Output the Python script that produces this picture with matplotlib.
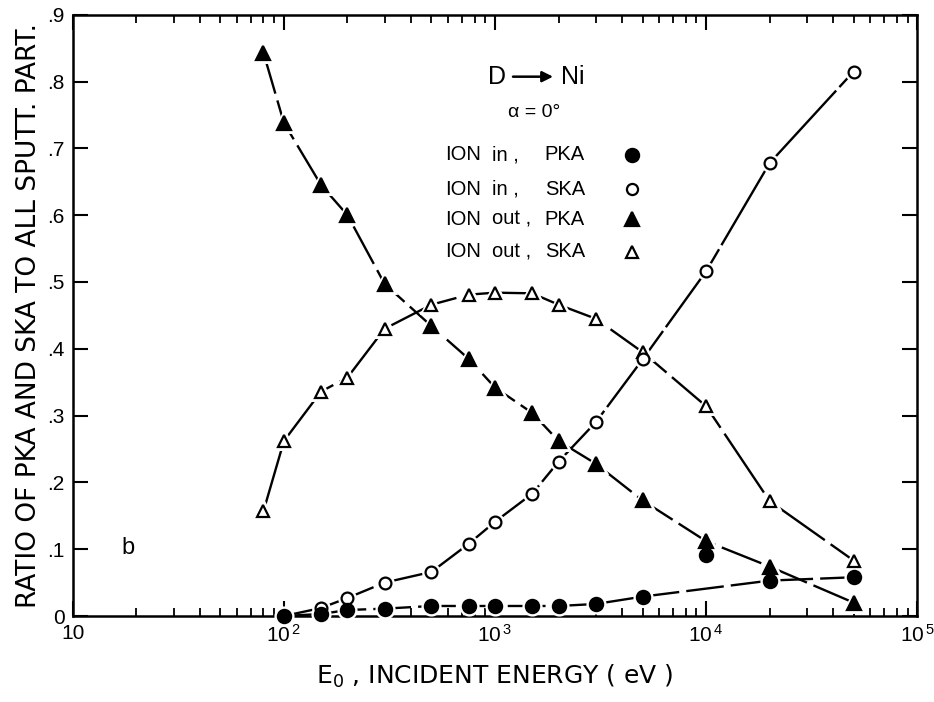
import numpy as np
import matplotlib
matplotlib.use('Agg')
import matplotlib.pyplot as plt
from matplotlib.ticker import FixedLocator, LogLocator, NullFormatter

plt.rcParams['font.family'] = ['Liberation Sans', 'DejaVu Sans']
plt.rcParams['mathtext.fontset'] = 'custom'
plt.rcParams['mathtext.rm'] = 'Liberation Sans'

# incident energies (eV)
energy = [80, 100, 150, 200, 300, 500, 750, 1000, 1500, 2000, 3000, 5000, 10000, 20000, 50000]

# ION in, PKA (filled circles), starts at 100 eV
e_in = energy[1:]
in_pka = [0.0, 0.003, 0.009, 0.011, 0.015, 0.015, 0.015, 0.015, 0.015, 0.018, 0.029, 0.092, 0.053, 0.058]
# ION in, SKA (open circles)
in_ska = [0.0, 0.012, 0.027, 0.050, 0.066, 0.108, 0.141, 0.183, 0.231, 0.290, 0.384, 0.516, 0.678, 0.815]
# ION out, PKA (filled triangles)
out_pka = [0.843, 0.738, 0.645, 0.600, 0.497, 0.434, 0.385, 0.342, 0.304, 0.262, 0.228, 0.173, 0.112, 0.074, 0.020]
# ION out, SKA (open triangles)
out_ska = [0.157, 0.262, 0.336, 0.357, 0.430, 0.466, 0.481, 0.484, 0.483, 0.466, 0.445, 0.395, 0.314, 0.172, 0.083]

fig = plt.figure(figsize=(9.34, 7.02), dpi=100)
ax = fig.add_axes([0.078, 0.1225, 0.904, 0.8565])
ax.set_xscale('log')
ax.set_xlim(10, 1e5)
ax.set_ylim(0, 0.9)


def curve(x, y, marker, filled, ms, dash, skip=None):
    xl = [v for i, v in enumerate(x) if i != skip]
    yl = [v for i, v in enumerate(y) if i != skip]
    ax.plot(xl, yl, color='black', lw=1.7, dashes=dash, zorder=2, clip_on=False)
    ax.plot(x, y, ls='none', marker=marker, ms=ms, mfc='white', mec='white', mew=5,
            zorder=3, clip_on=False)
    ax.plot(x, y, ls='none', marker=marker, ms=ms,
            mfc='black' if filled else 'white', mec='black', mew=1.6,
            zorder=4, clip_on=False)


curve(energy, out_ska, '^', False, 9, (30, 3))
curve(energy, out_pka, '^', True, 10, (18, 3))
curve(e_in, in_ska, 'o', False, 8.5, (40, 2))
curve(e_in, in_pka, 'o', True, 9.5, (16, 3), skip=11)

# axes styling
for s in ax.spines.values():
    s.set_linewidth(1.8)
ax.yaxis.set_major_locator(FixedLocator(np.arange(0, 0.91, 0.1)))
ylabels = ['0'] + ['.%d' % i for i in range(1, 10)]
ax.set_yticklabels(ylabels)
ax.xaxis.set_major_locator(FixedLocator([10, 100, 1000, 10000, 100000]))
ax.xaxis.set_minor_locator(LogLocator(base=10, subs=np.arange(2, 10)))
ax.xaxis.set_minor_formatter(NullFormatter())
ax.set_xticklabels(['10', r'$\mathregular{10^{\,2}}$', r'$\mathregular{10^{\,3}}$',
                    r'$\mathregular{10^{\,4}}$', r'$\mathregular{10^{\,5}}$'])
ax.tick_params(which='major', direction='in', length=11, width=1.5, labelsize=15,
               top=True, right=True, pad=6)
ax.tick_params(which='minor', direction='in', length=6, width=1.3, top=True)

ax.set_ylabel('RATIO OF PKA AND SKA TO ALL SPUTT. PART.', fontsize=19,
              family='DejaVu Sans', labelpad=4)
ax.set_xlabel(r'E$\mathregular{_0}$ , INCIDENT ENERGY ( eV )', fontsize=18,
              family='DejaVu Sans', labelpad=12)

# annotation block
ax.text(0.502, 0.897, 'D', transform=ax.transAxes, fontsize=18, ha='center', va='center')
ax.annotate('', xy=(0.572, 0.897), xytext=(0.518, 0.897), xycoords='axes fraction',
            arrowprops=dict(arrowstyle='-|>', color='black', lw=1.8, mutation_scale=16))
ax.text(0.578, 0.897, 'Ni', transform=ax.transAxes, fontsize=18, ha='left', va='center')
ax.text(0.546, 0.837, 'α = 0°', transform=ax.transAxes, fontsize=14, ha='center', va='center')

rows_y = [0.767, 0.710, 0.660, 0.606]
col1 = ['in ,', 'in ,', 'out ,', 'out ,']
col2 = ['PKA', 'SKA', 'PKA', 'SKA']
marks = [('o', True, 9.5), ('o', False, 8), ('^', True, 10), ('^', False, 9)]
for yy, a, b, (m, f, s) in zip(rows_y, col1, col2, marks):
    ax.text(0.441, yy, 'ION', transform=ax.transAxes, fontsize=14.5, va='center')
    ax.text(0.497, yy, a, transform=ax.transAxes, fontsize=14.5, va='center')
    ax.text(0.559, yy, b, transform=ax.transAxes, fontsize=14.5, va='center')
    ax.plot([0.662], [yy], transform=ax.transAxes, marker=m, ms=s,
            mfc='black' if f else 'white', mec='black', mew=1.6, ls='none')

ax.text(0.065, 0.113, 'b', transform=ax.transAxes, fontsize=17, ha='center', va='center')

fig.savefig('out.png', dpi=100)
